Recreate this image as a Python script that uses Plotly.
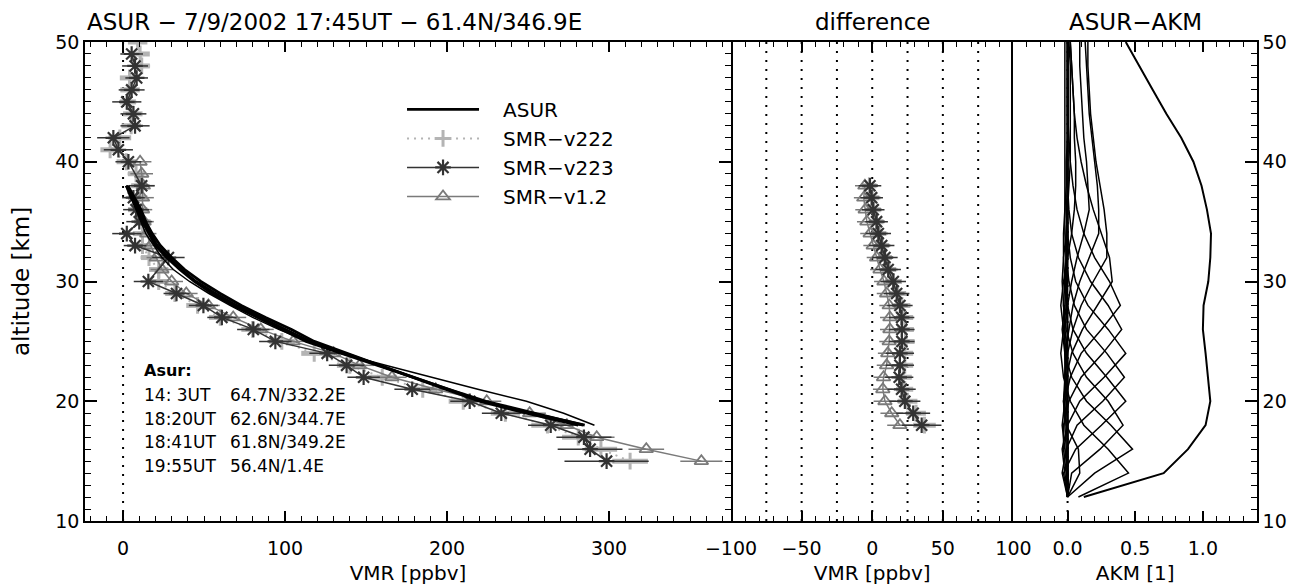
import plotly.graph_objects as go

# ---------------- data ----------------
# ASUR profiles (4 overlapping measurements), altitude 38..18 km
asur_alt = [38, 37, 36, 35, 34, 33, 32, 31, 30, 29, 28, 27, 26, 25, 24, 23, 22, 21, 20, 19, 18]
asur_a = [2, 6, 10, 13, 17, 21, 28, 36, 45, 57, 70, 85, 101, 115, 137, 158, 179, 200, 222, 252, 285]
asur_b = [3, 7, 11, 14, 18, 23, 30, 38, 48, 60, 73, 88, 104, 118, 138, 158, 178, 199, 220, 249, 281]
asur_c = [2, 5, 9, 12, 16, 20, 27, 35, 44, 55, 68, 83, 99, 113, 135, 157, 178, 201, 224, 254, 284]
asur_d = [2, 5, 8, 11, 14, 19, 24, 31, 41, 53, 66, 80, 96, 114, 134, 162, 190, 219, 249, 272, 291]

# SMR-v222
v222_alt = [50, 49, 48, 47, 46, 45, 44, 43, 42, 41, 40, 39, 38, 37, 36, 35, 34, 33, 32, 31,
            30, 29, 28, 27, 26, 25, 24, 23, 22, 21, 20, 19, 18, 17, 16, 15]
v222_vmr = [9, 10.5, 11.5, 4, 4.3, 3, 6, 5, -2, -8, 2, 8, 10, 9, 9, 12, 12, 12, 16, 22,
            22, 32, 46, 60, 80, 98, 118, 140, 160, 185, 210, 236, 262, 281, 295, 313]
v222_err = [6, 6, 5, 6, 6, 5, 6, 6, 7, 6, 6, 5, 5, 6, 6, 5, 6, 6, 5, 6,
            6, 6, 7, 7, 7, 8, 8, 8, 9, 9, 9, 9, 10, 10, 10, 11]

# SMR-v223
v223_alt = [49, 48, 47, 46, 45, 44, 43, 42, 41, 40, 38, 37, 36, 35, 34, 33, 32,
            30, 29, 28, 27, 26, 25, 24, 23, 22, 21, 20, 19, 18, 17, 16, 15]
v223_vmr = [5.3, 7.4, 8.4, 5.3, 2.3, 6.4, 7.4, -6, -2.9, 3.3, 11.5, 6.4, 8, 10, 2.3, 7.4, 28,
            15.6, 33, 49.6, 61, 80.4, 94, 126, 138, 148.5, 178.5, 214, 233.5, 264, 284.5, 288.3, 298.5]
v223_err = [7, 8, 7, 8, 9, 8, 9, 10, 9, 8, 8, 7, 8, 8, 9, 7, 10,
            9, 8, 9, 9, 10, 10, 11, 11, 10, 11, 12, 12, 14, 17, 20, 26]

# SMR-v1.2
v12_alt = [40, 39, 38, 37, 36, 35, 34, 33, 32, 31, 30, 29, 28, 27, 26, 25, 24, 23, 22, 21,
           20, 19, 18, 17, 16, 15]
v12_vmr = [10.5, 11.5, 12.5, 12, 12, 13, 14.6, 17, 20.5, 24, 30, 39, 52.7, 68, 85, 105, 130, 146, 166, 193,
           224.5, 251, 274, 292.4, 323, 357]
v12_err = [7, 7, 7, 7, 6, 6, 6, 6, 6, 7, 7, 7, 7, 8, 8, 8, 8, 9, 9, 9,
           9, 10, 10, 11, 11, 13]

# differences (SMR - ASUR), altitude 38..18 km
diff_alt = [38, 37, 36, 35, 34, 33, 32, 31, 30, 29, 28, 27, 26, 25, 24, 23, 22, 21, 20, 19, 18]
diff_v222 = [-2, 0, 1, 3, 5, 7, 9, 12, 15, 18, 21, 23, 23.5, 24, 23, 23, 22, 23, 25, 31, 37]
diff_v222_err = [5, 5, 5, 5, 5, 5, 5, 5, 6, 6, 6, 6, 6, 6, 6, 6, 6, 6, 7, 7, 8]
diff_v223 = [-1.6, -0.4, 0.7, 3.1, 4.3, 6.7, 9, 11.3, 14.9, 17.3, 19.6, 20.8, 21, 21, 19.6, 19.6, 19.1, 20.8, 23.1, 29, 35]
diff_v223_err = [8, 8, 8, 8, 9, 9, 9, 9, 9, 9, 9, 9, 9, 9, 10, 10, 10, 10, 11, 12, 14]
diff_v12 = [-5.2, -6, -5, -3.8, -1.5, 0.7, 3.1, 5.5, 8.3, 10.2, 12, 12.5, 12.5, 12, 11, 10.2, 8, 7.5, 9, 13.8, 19.6]
diff_v12_err = [7, 7, 7, 7, 7, 7, 7, 7, 7, 7, 7, 7, 7, 7, 7, 7, 7, 7, 8, 8, 9]

# ASUR averaging kernels
akm_alt = [12, 14, 16, 18, 20, 22, 24, 26, 28, 30, 32, 34, 36, 38, 40, 42, 44, 46, 48, 50]
akm_k12 = [0.00, 0.09, 0.08, -0.01, -0.03, -0.02, -0.01, 0.00, 0.00, 0.00, 0.00, 0.00, 0.00, 0.00, 0.00, 0.00, 0.00, 0.00, 0.00, 0.00]
akm_k14 = [0.08, 0.45, 0.30, 0.12, 0.02, -0.03, -0.05, -0.03, -0.01, 0.00, 0.00, 0.00, 0.00, 0.00, 0.00, 0.00, 0.00, 0.00, 0.00, 0.00]
akm_k16 = [0.00, 0.20, 0.48, 0.32, 0.14, 0.03, -0.02, -0.04, -0.02, -0.01, 0.00, 0.00, 0.00, 0.00, 0.00, 0.00, 0.00, 0.00, 0.00, 0.00]
akm_k18 = [0.00, 0.03, 0.24, 0.41, 0.30, 0.14, 0.04, -0.01, -0.03, -0.02, -0.01, 0.00, 0.00, 0.00, 0.00, 0.00, 0.00, 0.00, 0.00, 0.00]
akm_k20 = [0.00, -0.03, 0.06, 0.25, 0.43, 0.29, 0.14, 0.04, 0.00, -0.02, -0.01, 0.00, 0.00, 0.00, 0.00, 0.00, 0.00, 0.00, 0.00, 0.00]
akm_k22 = [0.00, -0.04, -0.01, 0.07, 0.26, 0.42, 0.29, 0.14, 0.05, 0.01, -0.01, -0.01, 0.00, 0.00, 0.00, 0.00, 0.00, 0.00, 0.00, 0.00]
akm_k24 = [0.00, -0.02, -0.04, 0.00, 0.09, 0.27, 0.43, 0.30, 0.15, 0.06, 0.02, 0.00, -0.01, 0.00, 0.00, 0.00, 0.00, 0.00, 0.00, 0.00]
akm_k26 = [0.00, -0.01, -0.03, -0.03, 0.01, 0.10, 0.26, 0.40, 0.30, 0.17, 0.08, 0.03, 0.01, 0.00, 0.00, 0.00, 0.00, 0.00, 0.00, 0.00]
akm_k28 = [0.00, 0.00, -0.02, -0.04, -0.02, 0.02, 0.10, 0.25, 0.39, 0.31, 0.20, 0.12, 0.07, 0.04, 0.02, 0.01, 0.00, 0.00, 0.00, 0.00]
akm_k30 = [0.00, 0.00, -0.01, -0.02, -0.03, -0.01, 0.03, 0.11, 0.22, 0.33, 0.31, 0.25, 0.19, 0.14, 0.10, 0.07, 0.05, 0.04, 0.03, 0.02]
akm_k32 = [0.00, 0.00, 0.00, -0.01, -0.02, -0.02, 0.00, 0.04, 0.10, 0.19, 0.29, 0.29, 0.27, 0.24, 0.21, 0.19, 0.17, 0.16, 0.15, 0.15]
akm_k34 = [0.00, 0.00, 0.00, 0.00, -0.01, -0.02, -0.02, 0.01, 0.04, 0.09, 0.16, 0.23, 0.23, 0.22, 0.20, 0.18, 0.16, 0.15, 0.14, 0.13]
akm_k36 = [0.00, 0.00, 0.00, 0.00, 0.00, -0.01, -0.02, -0.02, 0.00, 0.03, 0.07, 0.12, 0.16, 0.15, 0.14, 0.12, 0.11, 0.10, 0.09, 0.09]
akm_k40 = [0.00, 0.00, 0.00, 0.00, 0.00, 0.00, -0.01, -0.03, -0.05, -0.03, 0.00, 0.03, 0.05, 0.06, 0.06, 0.05, 0.05, 0.04, 0.03, 0.02]
akm_k44 = [0.00, 0.00, 0.00, 0.00, 0.00, 0.00, 0.00, -0.02, -0.03, -0.04, -0.03, -0.01, 0.00, 0.01, 0.02, 0.02, 0.02, 0.02, 0.02, 0.01]
akm_k48 = [0.00, 0.00, 0.00, 0.00, 0.00, 0.00, 0.00, 0.00, -0.01, -0.02, -0.03, -0.03, -0.02, -0.01, -0.01, 0.00, 0.00, 0.00, 0.00, 0.00]
akm_k50 = [0.00, 0.00, 0.00, 0.00, 0.00, 0.00, 0.00, 0.00, 0.00, -0.01, -0.01, -0.02, -0.02, -0.02, -0.02, -0.02, -0.02, -0.02, -0.02, -0.02]
akm_total = [0.12, 0.71, 0.89, 1.02, 1.055, 1.04, 1.02, 1.0, 1.005, 1.04, 1.055, 1.06, 1.03, 0.99,
             0.93, 0.84, 0.73, 0.63, 0.53, 0.43]

# text
info_times = ["14: 3UT", "18:20UT", "18:41UT", "19:55UT"]
info_locs = ["64.7N/332.2E", "62.6N/344.7E", "61.8N/349.2E", "56.4N/1.4E"]
diff_ref_lines = [-75, -50, -25, 0, 25, 50, 75]

# ---------------- styles ----------------
FONT = "DejaVu Sans"
C222 = "#b4b4b4"
C223 = "#333333"
C12 = "#7a7a7a"
D1 = [0.0, 0.5512]
D2 = [0.5512, 0.7922]
D3 = [0.7922, 1.0]
PAD = "\u00a0\u00a0\u00a0"  # gap between legend sample and label

fig = go.Figure()

# ---- panel 1 ----
fig.add_trace(go.Scatter(
    x=v222_vmr, y=v222_alt, mode="lines+markers", name=PAD + "SMR\u2212v222",
    line=dict(color=C222, width=2, dash="2px,5px"),
    marker=dict(symbol="cross-thin-open", size=12, line=dict(color=C222, width=3)),
    error_x=dict(type="data", array=v222_err, color=C222, thickness=5, width=0),
    legendrank=2, xaxis="x", yaxis="y"))
fig.add_trace(go.Scatter(
    x=v12_vmr, y=v12_alt, mode="lines+markers", name=PAD + "SMR\u2212v1.2",
    line=dict(color=C12, width=1.5),
    marker=dict(symbol="triangle-up-open", size=12, line=dict(color=C12, width=1.8)),
    error_x=dict(type="data", array=v12_err, color=C12, thickness=1.5, width=0),
    legendrank=4, xaxis="x", yaxis="y"))
fig.add_trace(go.Scatter(
    x=v223_vmr, y=v223_alt, mode="lines+markers", name=PAD + "SMR\u2212v223",
    line=dict(color=C223, width=1.5),
    marker=dict(symbol="asterisk-open", size=13, line=dict(color=C223, width=2.2)),
    error_x=dict(type="data", array=v223_err, color=C223, thickness=1.5, width=0),
    legendrank=3, xaxis="x", yaxis="y"))
for i, prof in enumerate([asur_a, asur_b, asur_c, asur_d]):
    fig.add_trace(go.Scatter(
        x=prof, y=asur_alt, mode="lines", name=PAD + "ASUR",
        line=dict(color="black", width=2.8 if i < 3 else 1.5),
        showlegend=(i == 0), legendrank=1, xaxis="x", yaxis="y"))

# ---- panel 2 ----
fig.add_trace(go.Scatter(
    x=diff_v222, y=diff_alt, mode="lines+markers", showlegend=False,
    line=dict(color=C222, width=2, dash="2px,5px"),
    marker=dict(symbol="cross-thin-open", size=12, line=dict(color=C222, width=3)),
    error_x=dict(type="data", array=diff_v222_err, color=C222, thickness=5, width=0),
    xaxis="x2", yaxis="y2"))
fig.add_trace(go.Scatter(
    x=diff_v12, y=diff_alt, mode="lines+markers", showlegend=False,
    line=dict(color=C12, width=1.5),
    marker=dict(symbol="triangle-up-open", size=12, line=dict(color=C12, width=1.8)),
    error_x=dict(type="data", array=diff_v12_err, color=C12, thickness=1.5, width=0),
    xaxis="x2", yaxis="y2"))
fig.add_trace(go.Scatter(
    x=diff_v223, y=diff_alt, mode="lines+markers", showlegend=False,
    line=dict(color=C223, width=1.5),
    marker=dict(symbol="asterisk-open", size=13, line=dict(color=C223, width=2.2)),
    error_x=dict(type="data", array=diff_v223_err, color=C223, thickness=1.5, width=0),
    xaxis="x2", yaxis="y2"))

# ---- panel 3 ----
for k in [akm_k12, akm_k14, akm_k16, akm_k18, akm_k20, akm_k22, akm_k24, akm_k26, akm_k28,
          akm_k30, akm_k32, akm_k34, akm_k36, akm_k40, akm_k44, akm_k48, akm_k50]:
    fig.add_trace(go.Scatter(x=k, y=akm_alt, mode="lines", showlegend=False,
                             line=dict(color="black", width=1.5), xaxis="x3", yaxis="y3"))
fig.add_trace(go.Scatter(x=akm_total, y=akm_alt, mode="lines", showlegend=False,
                         line=dict(color="black", width=2), xaxis="x3", yaxis="y3"))

# ---- reference (dotted) lines ----
shapes = [dict(type="line", xref="x", yref="y", x0=0, x1=0, y0=10, y1=50,
               line=dict(color="black", width=2, dash="2px,7px"), layer="below")]
for v in diff_ref_lines:
    shapes.append(dict(type="line", xref="x2", yref="y2", x0=v, x1=v, y0=10, y1=50,
                       line=dict(color="black", width=2, dash="2px,7px"), layer="below"))
shapes.append(dict(type="line", xref="x3", yref="y3", x0=0, x1=0, y0=10, y1=50,
                   line=dict(color="black", width=2, dash="2px,7px"), layer="below"))

# ---- axes ----
tickfont = dict(family=FONT, size=19, color="black")
xcommon = dict(showline=True, linecolor="black", linewidth=1.5, mirror="allticks",
               ticks="inside", ticklen=10, tickwidth=1.5, tickcolor="black", automargin=False,
               ticklabelstandoff=9,
               showgrid=False, zeroline=False, tickfont=tickfont)
ycommon = dict(linecolor="black", linewidth=1.5, range=[10, 50], automargin=False,
               showgrid=False, zeroline=False, tickfont=tickfont)

annotations = [
    dict(text="ASUR \u2212 7/9/2002 17:45UT \u2212 61.4N/346.9E", xref="paper", yref="paper",
         x=0.0, y=1.0, xanchor="left", yanchor="bottom", yshift=5, showarrow=False,
         font=dict(family=FONT, size=23, color="black")),
    dict(text="difference", xref="paper", yref="paper", x=(D2[0] + D2[1]) / 2, y=1.0,
         xanchor="center", yanchor="bottom", yshift=5, showarrow=False,
         font=dict(family=FONT, size=23, color="black")),
    dict(text="ASUR\u2212AKM", xref="paper", yref="paper", x=(D3[0] + D3[1]) / 2, y=1.0,
         xanchor="center", yanchor="bottom", yshift=5, showarrow=False,
         font=dict(family=FONT, size=23, color="black")),
    dict(text="<b>Asur:</b>", xref="paper", yref="paper", x=0.0484, y=0.3138,
         xanchor="left", yanchor="middle", showarrow=False,
         font=dict(family=FONT, size=16, color="black")),
]
row_y = [0.2636, 0.2134, 0.1646, 0.1151]
for t, loc, yy in zip(info_times, info_locs, row_y):
    annotations.append(dict(text=t, xref="paper", yref="paper", x=0.0484, y=yy,
                            xanchor="left", yanchor="middle", showarrow=False,
                            font=dict(family=FONT, size=17, color="black")))
    annotations.append(dict(text=loc, xref="paper", yref="paper", x=0.1223, y=yy,
                            xanchor="left", yanchor="middle", showarrow=False,
                            font=dict(family=FONT, size=17, color="black")))

# page body adds an 8px offset, so the figure is 8px smaller and margins shifted
fig.update_layout(
    width=1294, height=578,
    margin=dict(l=77, r=45, t=34, b=65, autoexpand=False),
    paper_bgcolor="white", plot_bgcolor="white",
    font=dict(family=FONT, color="black"),
    showlegend=True,
    legend=dict(x=0.2705, y=0.90, xanchor="left", yanchor="top", bgcolor="rgba(0,0,0,0)",
                font=dict(family=FONT, size=20, color="black"), itemwidth=72,
                tracegroupgap=0, traceorder="normal"),
    xaxis=dict(domain=D1, range=[-23.5, 375.3], anchor="y", dtick=100, tick0=0,
               minor=dict(dtick=10, ticks="inside", ticklen=5, tickcolor="black", tickwidth=1.2),
               title=dict(text="VMR [ppbv]", font=dict(family=FONT, size=20), standoff=8),
               **xcommon),
    yaxis=dict(domain=[0, 1], anchor="x", dtick=10, tick0=10, ticks="inside", ticklen=12,
               tickwidth=1.5, tickcolor="black", mirror="allticks", showline=True,
               minor=dict(dtick=1, ticks="inside", ticklen=6, tickcolor="black", tickwidth=1.2),
               title=dict(text="altitude [km]", font=dict(family=FONT, size=23), standoff=22),
               **ycommon),
    xaxis2=dict(domain=D2, range=[-100, 100], anchor="y2", dtick=50, tick0=0,
                minor=dict(dtick=10, ticks="inside", ticklen=5, tickcolor="black", tickwidth=1.2),
                title=dict(text="VMR [ppbv]", font=dict(family=FONT, size=20), standoff=8),
                **xcommon),
    yaxis2=dict(domain=[0, 1], anchor="x2", matches="y", ticks="", showticklabels=False,
                showline=False, **ycommon),
    xaxis3=dict(domain=D3, range=[-0.4, 1.4], anchor="y3", dtick=0.5, tick0=0, tickformat=".1f",
                minor=dict(dtick=0.1, ticks="inside", ticklen=5, tickcolor="black", tickwidth=1.2),
                title=dict(text="AKM [1]", font=dict(family=FONT, size=20), standoff=8),
                **xcommon),
    yaxis3=dict(domain=[0, 1], anchor="x3", matches="y", side="right", dtick=10, tick0=10,
                ticks="inside", ticklen=12, tickwidth=1.5, tickcolor="black", mirror=True,
                showline=True,
                minor=dict(dtick=1, ticks="inside", ticklen=6, tickcolor="black", tickwidth=1.2),
                **ycommon),
    shapes=shapes,
    annotations=annotations,
)

fig.write_html("out.html")
